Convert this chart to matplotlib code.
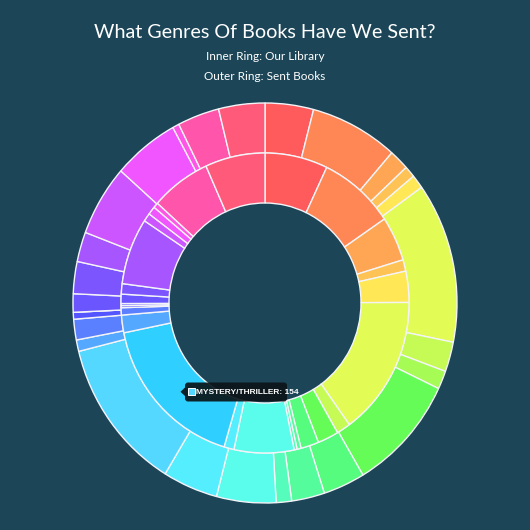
import matplotlib
matplotlib.use('Agg')
import matplotlib.pyplot as plt
from matplotlib.patches import FancyBboxPatch, Polygon, Rectangle

# Genres, shared by both rings (clockwise from 12 o'clock)
genres = [
    "Fantasy", "Science Fiction", "Horror", "Historical Fiction", "Romance",
    "Literary Fiction", "Classics", "Poetry", "Non-Fiction", "Biography",
    "Memoir", "Self-Help", "Young Adult", "Graphic Novels", "Mystery/Thriller",
    "Humor", "Travel", "Cooking", "Art", "Science", "History", "Children's",
    "Short Stories", "Drama", "Religion", "Adventure", "Crime",
]
genre_colors = [
    "#ff5a5c", "#ff8755", "#ffa655", "#ffc355", "#ffe755",
    "#e3fb55", "#c6fb55", "#a6fb55", "#66fc58", "#55fc7e",
    "#55fc9c", "#55fcbb", "#5afcec", "#55eeff", "#55d8ff",
    "#55a8ff", "#5a80ff", "#5555ff", "#6055ff", "#6a55ff",
    "#7c55ff", "#a655ff", "#cc55ff", "#f055ff", "#ff55e6",
    "#ff55aa", "#ff5a7a",
]
# inner ring: our library
library_counts = [63, 76, 43, 11, 30, 135, 14, 0, 21, 18, 4, 3, 60, 10, 154,
                  17, 7, 2, 2, 9, 10, 64, 8, 8, 5, 60, 60]
# outer ring: sent books
sent_counts = [22, 40, 9, 5, 6, 70, 13, 8, 51, 19, 15, 7, 27, 25, 67,
               5, 9, 3, 0, 8, 14, 13, 31, 30, 3, 19, 21]

hover_idx = 14
hover_color = "#2fd0ff"
bg = "#1c4658"

fig = plt.figure(figsize=(5.3, 5.3), dpi=100, facecolor=bg)

# pie axes: unit radius = 192 px wide, 200 px tall, centre at (265, 303)
ax = fig.add_axes([0, 0, 1, 1])
ax.set_facecolor(bg)

edge = dict(edgecolor="#f4f4f8", linewidth=1.0)
ax.pie(sent_counts, colors=genre_colors, radius=1.0, startangle=90,
       counterclock=False, wedgeprops=dict(width=0.25, **edge))

inner_colors = list(genre_colors)
inner_colors[hover_idx] = hover_color
ax.pie(library_counts, colors=inner_colors, radius=0.75, startangle=90,
       counterclock=False, wedgeprops=dict(width=0.25, **edge))

ax.set_aspect("auto")
ax.set_xlim(-265 / 192, 265 / 192)
ax.set_ylim(-227 / 200, 303 / 200)
ax.axis("off")

# overlay in pixel coordinates for titles and tooltip
ov = fig.add_axes([0, 0, 1, 1], zorder=5)
ov.set_xlim(0, 530)
ov.set_ylim(530, 0)
ov.axis("off")
ov.patch.set_alpha(0)

title_font = ["Lato", "DejaVu Sans"]
ov.text(265, 32, "What Genres Of Books Have We Sent?", color="white",
        fontsize=14.2, ha="center", va="center", family=title_font)
ov.text(265, 57, "Inner Ring: Our Library", color="white",
        fontsize=8.5, ha="center", va="center", family=title_font)
ov.text(265, 76, "Outer Ring: Sent Books", color="white",
        fontsize=8.5, ha="center", va="center", family=title_font)

# tooltip for the hovered inner segment
tip = FancyBboxPatch((185, 382.5), 102, 19, boxstyle="round,pad=0,rounding_size=3",
                     facecolor="#0b1418", edgecolor="none", alpha=0.92)
ov.add_patch(tip)
ov.add_patch(Polygon([(185.5, 387), (185.5, 396.5), (180.5, 391.8)],
                     closed=True, facecolor="#0b1418", edgecolor="none", alpha=0.92))
ov.add_patch(Rectangle((187.5, 388.3), 7, 7, facecolor=genre_colors[hover_idx],
                       edgecolor="white", linewidth=0.7))
ov.text(196.0, 392.2, f"{genres[hover_idx].upper()}: {library_counts[hover_idx]}",
        color="white", fontsize=6.0, fontweight="bold", ha="left", va="center",
        family=["Liberation Sans", "DejaVu Sans"])

plt.savefig("out.png", dpi=100, facecolor=bg)
plt.close()
